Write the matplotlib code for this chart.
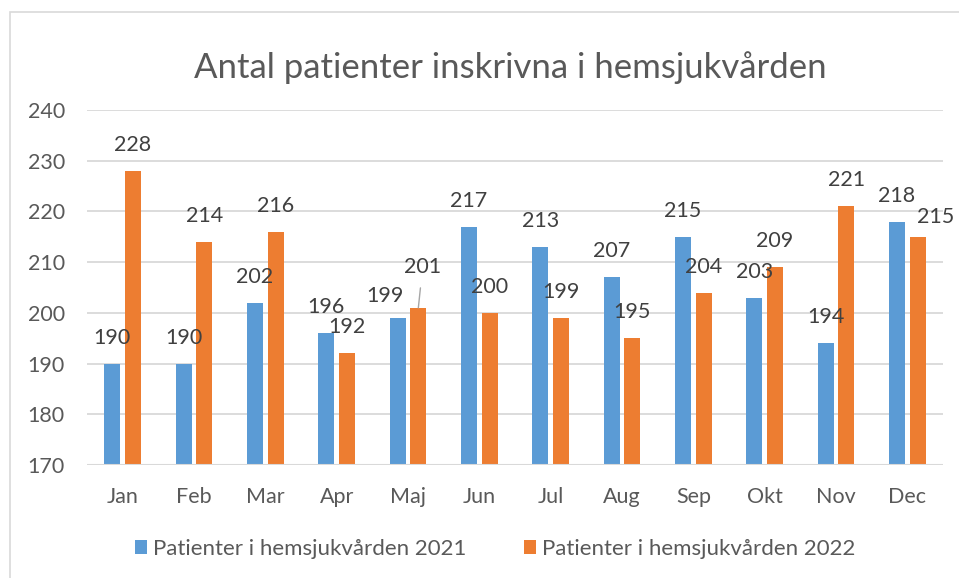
import matplotlib
matplotlib.use('Agg')
import matplotlib.pyplot as plt
import numpy as np
from matplotlib.patches import Rectangle, Patch

plt.rcParams['font.family'] = ['Lato', 'DejaVu Sans']

months = ['Jan', 'Feb', 'Mar', 'Apr', 'Maj', 'Jun', 'Jul', 'Aug', 'Sep', 'Okt', 'Nov', 'Dec']
vals_2021 = [190, 190, 202, 196, 199, 217, 213, 207, 215, 203, 194, 218]
vals_2022 = [228, 214, 216, 192, 201, 200, 199, 195, 204, 209, 221, 215]
series_names = ['Patienter i hemsjukvården 2021', 'Patienter i hemsjukvården 2022']
yticks = [170, 180, 190, 200, 210, 220, 230, 240]

blue = '#5B9BD5'
orange = '#ED7D31'
grey_txt = '#595959'
grid_col = '#D9D9D9'

W, H = 959, 578
fig = plt.figure(figsize=(W / 100, H / 100), dpi=100)
fig.patch.set_facecolor('white')

# chart border (only top/left visible in the crop)
fig.patches.append(Rectangle((10 / W, -0.1), 1.2, 1 - 11.5 / H + 0.1, transform=fig.transFigure,
                             fill=False, edgecolor=grid_col, lw=1.2))

ax = fig.add_axes([87 / W, 1 - 465 / H, (943 - 87) / W, (465 - 110) / H])
x = np.arange(len(months))
bw = 0.22
off = 0.145
ax.bar(x - off, np.array(vals_2021) - 170, bw, bottom=170, color=blue, zorder=3)
ax.bar(x + off, np.array(vals_2022) - 170, bw, bottom=170, color=orange, zorder=3)

ax.set_xlim(-0.5, len(months) - 0.5)
ax.set_ylim(170, 240)
ax.set_yticks(yticks)
ax.set_xticks(x)
ax.set_xticklabels(months)
ax.yaxis.grid(True, color=grid_col, lw=1.3, zorder=0)
for s in ax.spines.values():
    s.set_visible(False)
ax.tick_params(axis='both', length=0, labelsize=15.5, colors=grey_txt)
ax.tick_params(axis='y', pad=16)
ax.tick_params(axis='x', pad=16)
ax.axhline(170, color=grid_col, lw=1.5, zorder=4)

# data labels, most default, a few moved by hand in the original
dy = 18.7
moved = {(0, 4): (-9.4, 15.8), (1, 4): (3.1, 29.5), (1, 11): (13.0, 14.5)}
for si, vals in enumerate([vals_2021, vals_2022]):
    for i, v in enumerate(vals):
        xo, yo = moved.get((si, i), (0, dy))
        xp = i - off if si == 0 else i + off
        kw = {}
        if (si, i) == (1, 4):
            kw['arrowprops'] = dict(arrowstyle='-', color='#A6A6A6', lw=1, shrinkA=6, shrinkB=0)
        ax.annotate(str(v), xy=(xp, v), xytext=(xo, yo), textcoords='offset points',
                    ha='center', va='center', fontsize=15.5, color='#404040', zorder=5, **kw)

fig.text(510 / W, 1 - 68 / H, 'Antal patienter inskrivna i hemsjukvården',
         ha='center', va='center', fontsize=25, color=grey_txt)

handles = [Patch(facecolor=blue), Patch(facecolor=orange)]
fig.legend(handles, series_names, loc='center', bbox_to_anchor=(495 / W, 1 - 549 / H),
           ncol=2, frameon=False, fontsize=16, labelcolor=grey_txt,
           handlelength=0.55, handleheight=0.55, handletextpad=0.25, columnspacing=2.6)

fig.savefig('out.png', dpi=100)
